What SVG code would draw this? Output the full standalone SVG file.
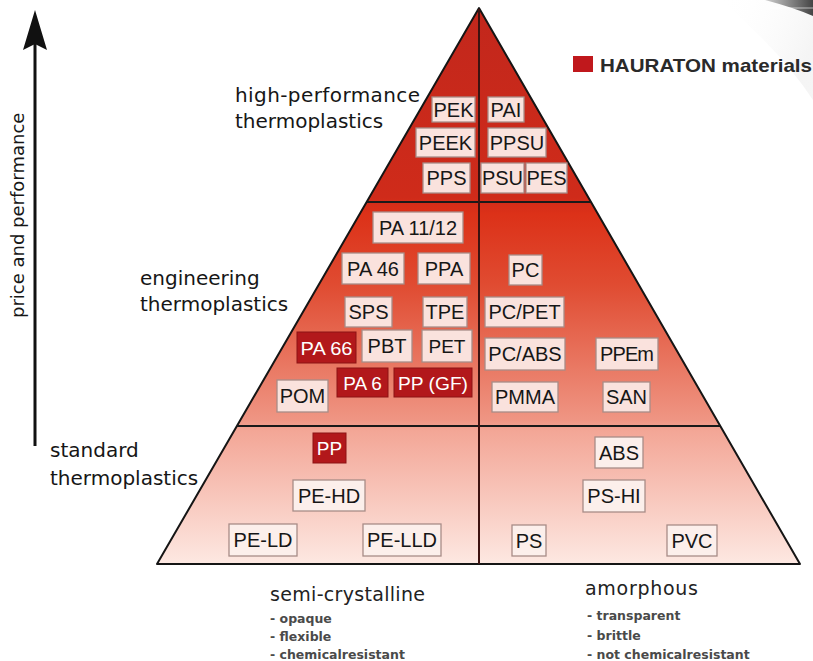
<svg xmlns="http://www.w3.org/2000/svg" width="813" height="661" viewBox="0 0 813 661">
<style>
.lbl{font-family:"DejaVu Sans",sans-serif;font-size:20px;fill:#161616}
.box rect{fill:#fae2dd;stroke:#a88c87;stroke-width:1.3}
.std rect{fill:#fcefeb}
.box text{font-family:"Liberation Sans",Arial,sans-serif;font-size:20px;fill:#161616;text-anchor:middle}
.red rect{fill:#b2181b;stroke:#8c1214;stroke-width:1}
.red text{font-family:"Liberation Sans",Arial,sans-serif;font-size:19px;fill:#ffffff;text-anchor:middle}
.head{font-family:"DejaVu Sans",sans-serif;font-size:19px;fill:#222}
.bul{font-family:"DejaVu Sans",sans-serif;font-weight:bold;font-size:12.5px;fill:#4a4a4a}
</style>
<defs>
<linearGradient id="pyr" gradientUnits="userSpaceOnUse" x1="0" y1="8" x2="0" y2="564">
<stop offset="0" stop-color="#c2271c"/>
<stop offset="0.34" stop-color="#cf2b1a"/>
<stop offset="0.37" stop-color="#dc3118"/>
<stop offset="0.5" stop-color="#e04c32"/>
<stop offset="0.74" stop-color="#ef9583"/>
<stop offset="0.76" stop-color="#f3a696"/>
<stop offset="1" stop-color="#fde8e2"/>
</linearGradient>
<linearGradient id="corner" x1="0" y1="0" x2="1" y2="0.4">
<stop offset="0" stop-color="#ffffff" stop-opacity="0"/>
<stop offset="1" stop-color="#e2e2e2"/>
</linearGradient>
<linearGradient id="swoosh" x1="0" y1="0" x2="1" y2="0">
<stop offset="0" stop-color="#d0d0d0"/>
<stop offset="1" stop-color="#444444"/>
</linearGradient>
</defs>
<rect width="813" height="661" fill="#ffffff"/>
<!-- top-right decoration -->
<path d="M 720 0 L 813 0 L 813 100 Q 780 50 720 0 Z" fill="url(#corner)" opacity="0.35"/>
<path d="M 765 0 L 813 0 L 813 16 Q 795 8 765 0 Z" fill="url(#swoosh)"/>
<line x1="690" y1="8" x2="813" y2="8" stroke="#ffffff" stroke-opacity="0.6" stroke-width="1"/>

<!-- pyramid -->
<g id="pyramid">
<polygon points="479,8 800,564 157,564" fill="url(#pyr)" stroke="#151515" stroke-width="2" stroke-linejoin="round"/>
<line x1="367" y1="202" x2="591" y2="202" stroke="#1a1a1a" stroke-width="1.8"/>
<line x1="237" y1="426" x2="720" y2="426" stroke="#1a1a1a" stroke-width="1.8"/>
<line x1="479" y1="9" x2="479" y2="564" stroke="#3d1210" stroke-width="2"/>
</g>

<!-- axis -->
<g id="connectors">
<line x1="35" y1="446" x2="35" y2="40" stroke="#111" stroke-width="3"/>
<polygon points="35,10 47,50 35,44 23,50" fill="#111"/>
</g>
<text class="lbl" transform="translate(24,318) rotate(-90)" style="font-size:18px">price and performance</text>

<!-- legend -->
<g id="legend">
<rect x="573" y="56" width="20" height="16" fill="#c0181c"/>
<text x="600" y="72" font-family="Liberation Sans, Arial, sans-serif" font-weight="bold" font-size="19" fill="#2a2a2a" textLength="212" lengthAdjust="spacingAndGlyphs">HAURATON materials</text>
</g>

<!-- group labels -->
<g id="label-high"><text class="lbl" x="235" y="102" textLength="185">high-performance</text><text class="lbl" x="235" y="128">thermoplastics</text></g>
<g id="label-eng"><text class="lbl" x="140" y="285">engineering</text><text class="lbl" x="140" y="311">thermoplastics</text></g>
<g id="label-std"><text class="lbl" x="50" y="457">standard</text><text class="lbl" x="50" y="485">thermoplastics</text></g>

<!-- high-performance -->
<g id="PEK" class="box"><rect x="432" y="97" width="43" height="25"/><text x="453.5" y="116.5">PEK</text></g>
<g id="PAI" class="box"><rect x="488" y="97" width="36" height="25"/><text x="506" y="116.5">PAI</text></g>
<g id="PEEK" class="box"><rect x="416" y="128" width="59" height="29"/><text x="445.5" y="149.5">PEEK</text></g>
<g id="PPSU" class="box"><rect x="488" y="128" width="58" height="29"/><text x="517" y="149.5">PPSU</text></g>
<g id="PPS" class="box"><rect x="423" y="163" width="47" height="30"/><text x="446.5" y="185">PPS</text></g>
<g id="PSU" class="box"><rect x="481" y="163" width="43" height="30"/><text x="502.5" y="185">PSU</text></g>
<g id="PES" class="box"><rect x="526" y="163" width="41" height="30"/><text x="546.5" y="185">PES</text></g>

<!-- engineering -->
<g id="PA1112" class="box"><rect x="373" y="212" width="90" height="31"/><text x="418" y="234.5">PA 11/12</text></g>
<g id="PA46" class="box"><rect x="342" y="253" width="62" height="31"/><text x="373" y="275.5">PA 46</text></g>
<g id="PPA" class="box"><rect x="418" y="253" width="52" height="31"/><text x="444" y="275.5">PPA</text></g>
<g id="SPS" class="box"><rect x="345" y="297" width="47" height="30"/><text x="368.5" y="319">SPS</text></g>
<g id="TPE" class="box"><rect x="423" y="297" width="44" height="30"/><text x="445" y="319">TPE</text></g>
<g id="PA66" class="red"><rect x="297" y="332" width="59" height="31"/><text x="326.5" y="354.5" textLength="52" lengthAdjust="spacingAndGlyphs">PA 66</text></g>
<g id="PBT" class="box"><rect x="362" y="330" width="50" height="32"/><text x="387" y="353">PBT</text></g>
<g id="PET" class="box"><rect x="422" y="330" width="50" height="32"/><text x="447" y="353" style="font-size:19px">PET</text></g>
<g id="PA6" class="red"><rect x="337" y="368" width="51" height="29"/><text x="362.5" y="389.5">PA 6</text></g>
<g id="PPGF" class="red"><rect x="394" y="368" width="78" height="29"/><text x="433" y="389.5" textLength="70" lengthAdjust="spacingAndGlyphs">PP (GF)</text></g>
<g id="POM" class="box"><rect x="277" y="380" width="51" height="32"/><text x="302.5" y="403">POM</text></g>
<g id="PC" class="box"><rect x="509" y="255" width="33" height="30"/><text x="525.5" y="277">PC</text></g>
<g id="PCPET" class="box"><rect x="485" y="297" width="79" height="30"/><text x="524.5" y="319">PC/PET</text></g>
<g id="PCABS" class="box"><rect x="485" y="338" width="80" height="32"/><text x="525" y="361">PC/ABS</text></g>
<g id="PPEm" class="box"><rect x="596" y="338" width="62" height="32"/><text x="627" y="361" textLength="54" lengthAdjust="spacing">PPEm</text></g>
<g id="PMMA" class="box"><rect x="492" y="382" width="66" height="30"/><text x="525" y="404">PMMA</text></g>
<g id="SAN" class="box"><rect x="603" y="382" width="47" height="30"/><text x="626.5" y="404">SAN</text></g>

<!-- standard -->
<g id="PP" class="red"><rect x="313" y="433" width="33" height="30"/><text x="329.5" y="455">PP</text></g>
<g id="PEHD" class="box std"><rect x="293" y="480" width="72" height="31"/><text x="329" y="502.5">PE-HD</text></g>
<g id="PELD" class="box std"><rect x="229" y="524" width="68" height="32"/><text x="263" y="547">PE-LD</text></g>
<g id="PELLD" class="box std"><rect x="363" y="524" width="78" height="32"/><text x="402" y="547">PE-LLD</text></g>
<g id="ABS" class="box std"><rect x="595" y="437" width="48" height="31"/><text x="619" y="459.5">ABS</text></g>
<g id="PSHI" class="box std"><rect x="583" y="480" width="62" height="32"/><text x="614" y="503">PS-HI</text></g>
<g id="PS" class="box std"><rect x="512" y="525" width="34" height="31"/><text x="529" y="547.5">PS</text></g>
<g id="PVC" class="box std"><rect x="667" y="525" width="50" height="31"/><text x="692" y="547.5">PVC</text></g>

<!-- bottom legend -->
<g id="semi">
<text class="head" x="270" y="601" textLength="155">semi-crystalline</text>
<text class="bul" x="270" y="623">- opaque</text>
<text class="bul" x="270" y="641">- flexible</text>
<text class="bul" x="270" y="659">- chemicalresistant</text>
</g>
<g id="amorph">
<text class="head" x="585" y="595" textLength="113">amorphous</text>
<text class="bul" x="587" y="620">- transparent</text>
<text class="bul" x="587" y="640">- brittle</text>
<text class="bul" x="587" y="659">- not chemicalresistant</text>
</g>
</svg>
